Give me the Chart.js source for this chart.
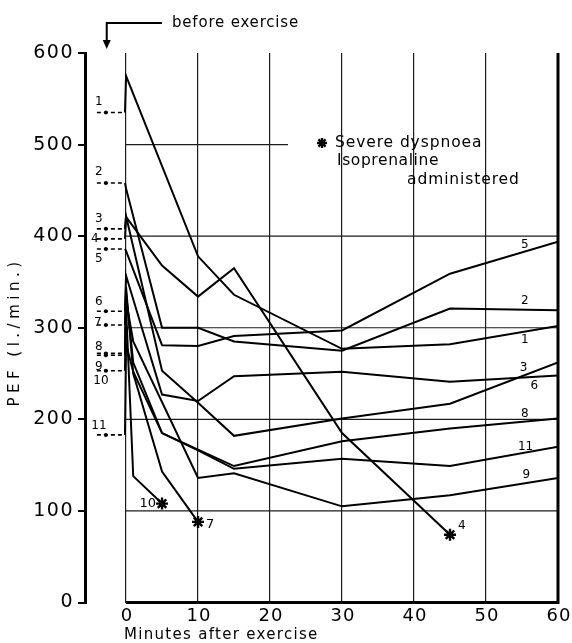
<!DOCTYPE html>
<html>
<head>
<meta charset="utf-8">
<script src="https://cdn.jsdelivr.net/npm/chart.js@4.4.1/dist/chart.umd.min.js"></script>
<style>
  html, body { margin: 0; padding: 0; background: #fff; }
  canvas { display: block; }
</style>
</head>
<body>
<canvas id="pefChart" width="572" height="643"></canvas>
<script>
// PEF (l./min.) of 11 patients, before and after exercise
const patients = ['1', '2', '3', '4', '5', '6', '7', '8', '9', '10', '11'];
const minutes = [0, 1, 5, 10, 15, 30, 45, 60];
const beforeExercise = [535, 458, 408, 397, 386, 318, 303, 272, 253, 270, 183];

const pef1  = [575, null, null, 378, 336, 277, 282, 302];
const pef2  = [452, null, 300, 300, 285, 275, 321, 319];
const pef3  = [422, null, 253, 218, 182, 201, 217, 262];
const pef4  = [421, null, 368, 334, 365, 185, 74, null];
const pef5  = [384, null, 281, 280, 291, 297, 359, 394];
const pef6  = [357, null, 227, 220, 247, 252, 241, 248];
const pef7  = [345, 250, 143, 88, null, null, null, null];
const pef8  = [338, 262, 185, 167, 149, 176, 190, 201];
const pef9  = [330, 285, null, 136, 141, 105, 117, 136];
const pef10 = [322, 138, 108, null, null, null, null, null];
const pef11 = [282, 252, 185, 166, 146, 157, 149, 170];
const series = [pef1, pef2, pef3, pef4, pef5, pef6, pef7, pef8, pef9, pef10, pef11];

// patients with severe dyspnoea, isoprenaline administered
const isoprenaline = ['4', '7', '10'];

const yTicks = [0, 100, 200, 300, 400, 500, 600];
const xTicks = [0, 10, 20, 30, 40, 50, 60];
const gridRows = [100, 200, 300, 400, 500];
const gridRowEnd = [60, 60, 60, 60, 22.5];

// label placement (minutes / value, and px offsets)
const endLabelMinute = [55.4, 55.4, 55.2, null, 55.4, 56.7, null, 55.4, 55.6, null, 55.5];
const endLabelValue  = [287, 329, 256, null, 391, 236, null, 206, 139, null, 170];
const startLabelDx = [0, 0, 0, -4, 0, 0, -1, 0, 0, 2, 0];
const startLabelDy = [-11, -11, -10, 0, 10, -9, -2, -7, -4, 26, -9];

const FONT = '"DejaVu Sans", "Liberation Sans", sans-serif';
const DASH_FROM = -4.05, DOT_AT = -2.8, DASH_TO = -0.15;

const datasets = series.map((vals, i) => {
  const pts = [
    { x: DASH_FROM, y: beforeExercise[i] },
    { x: DOT_AT, y: beforeExercise[i] },
    { x: DASH_TO, y: beforeExercise[i] },
  ];
  minutes.forEach((m, k) => { if (vals[k] !== null) pts.push({ x: m, y: vals[k] }); });
  const starred = isoprenaline.includes(patients[i]);
  const last = pts.length - 1;
  return {
    label: patients[i],
    data: pts,
    borderColor: '#000',
    backgroundColor: '#000',
    borderWidth: 2,
    tension: 0,
    segment: {
      borderDash: c => (c.p1DataIndex <= 2 ? [4, 3] : undefined),
      borderWidth: c => (c.p1DataIndex <= 2 ? 1.6 : 2),
    },
    pointRadius: c => (c.dataIndex === 1 ? 2 : (starred && c.dataIndex === last ? 6 : 0)),
    pointStyle: c => (c.dataIndex === 1 ? 'circle' : 'star'),
    pointBorderWidth: c => (c.dataIndex === 1 ? 0 : 2.4),
    pointBorderColor: '#000',
    pointBackgroundColor: '#000',
  };
});

function txt(ctx, s, px, py, size, align, spacing) {
  ctx.font = size + 'px ' + FONT;
  ctx.letterSpacing = (spacing || 0) + 'px';
  ctx.textAlign = align || 'left';
  ctx.textBaseline = 'middle';
  ctx.fillStyle = '#000';
  ctx.fillText(s, px, py);
}

function drawStar(ctx, cx, cy, r) {
  ctx.save();
  ctx.strokeStyle = '#000';
  ctx.lineWidth = 2.4;
  for (let k = 0; k < 4; k++) {
    const a = k * Math.PI / 4;
    ctx.beginPath();
    ctx.moveTo(cx - r * Math.cos(a), cy - r * Math.sin(a));
    ctx.lineTo(cx + r * Math.cos(a), cy + r * Math.sin(a));
    ctx.stroke();
  }
  ctx.restore();
}

const paperPlugin = {
  id: 'paper',
  beforeDatasetsDraw(chart) {
    const { ctx, chartArea, scales: { x, y } } = chart;
    ctx.save();
    ctx.strokeStyle = '#1c1c1c';
    ctx.lineWidth = 1.2;
    gridRows.forEach((v, i) => {
      ctx.beginPath();
      ctx.moveTo(x.getPixelForValue(0), y.getPixelForValue(v));
      ctx.lineTo(x.getPixelForValue(gridRowEnd[i]), y.getPixelForValue(v));
      ctx.stroke();
    });
    ctx.strokeStyle = '#000';
    ctx.lineWidth = 3;
    ctx.beginPath();
    ctx.moveTo(x.getPixelForValue(0), y.getPixelForValue(0));
    ctx.lineTo(x.getPixelForValue(60), y.getPixelForValue(0));
    ctx.lineTo(x.getPixelForValue(60), chartArea.top);
    ctx.stroke();
    ctx.restore();
  },
  afterDraw(chart) {
    const { ctx, scales: { x, y } } = chart;
    ctx.save();
    // axis numbers
    yTicks.forEach(v => txt(ctx, String(v), 74, y.getPixelForValue(v), 19, 'right', 1.5));
    xTicks.forEach(v => txt(ctx, String(v), x.getPixelForValue(v) + 1, 616, 18, 'center', 1));
    txt(ctx, 'Minutes after exercise', x.getPixelForValue(0) - 2, 635, 15, 'left', 1.3);

    // y title
    ctx.save();
    ctx.translate(15, 332);
    ctx.rotate(-Math.PI / 2);
    txt(ctx, 'PEF (l./min.)', 0, 0, 15, 'center', 4.5);
    ctx.restore();

    // "before exercise" arrow
    const ax = x.getPixelForValue(-2.68);
    ctx.strokeStyle = '#000';
    ctx.lineWidth = 2;
    ctx.beginPath();
    ctx.moveTo(162, 23);
    ctx.lineTo(ax, 23);
    ctx.lineTo(ax, 42);
    ctx.stroke();
    ctx.beginPath();
    ctx.moveTo(ax - 4, 40);
    ctx.lineTo(ax + 4, 40);
    ctx.lineTo(ax, 49);
    ctx.closePath();
    ctx.fill();
    txt(ctx, 'before exercise', 172, 23, 15, 'left', 0.8);

    // key
    drawStar(ctx, 322, 143, 5);
    txt(ctx, 'Severe dyspnoea', 335, 143, 15.5, 'left', 0.9);
    txt(ctx, 'Isoprenaline', 337, 161, 15.5, 'left', 0.6);
    txt(ctx, 'administered', 407, 180, 15.5, 'left', 0.9);

    // patient numbers
    patients.forEach((p, i) => {
      const by = y.getPixelForValue(beforeExercise[i]);
      const bx = x.getPixelForValue(DASH_FROM) + 2 + startLabelDx[i];
      txt(ctx, p, bx, by + startLabelDy[i], 12, 'center', 0);
      if (endLabelMinute[i] !== null) {
        txt(ctx, p, x.getPixelForValue(endLabelMinute[i]), y.getPixelForValue(endLabelValue[i]), 12, 'center', 0);
      }
    });
    // labels next to the starred end points
    const s4 = chart.getDatasetMeta(3).data.at(-1);
    const s7 = chart.getDatasetMeta(6).data.at(-1);
    const s10 = chart.getDatasetMeta(9).data.at(-1);
    txt(ctx, '4', s4.x + 8, s4.y - 9, 12, 'left', 0);
    txt(ctx, '7', s7.x + 8, s7.y + 3, 13, 'left', 0);
    txt(ctx, '10', s10.x - 6, s10.y, 13, 'right', 0);
    ctx.restore();
  }
};

const ctx = document.getElementById('pefChart').getContext('2d');
const pefChart = new Chart(ctx, {
  type: 'line',
  data: { datasets: datasets },
  options: {
    responsive: false,
    animation: false,
    devicePixelRatio: 1,
    layout: { padding: { top: 53, right: 14, left: 0, bottom: 0 } },
    plugins: {
      legend: { display: false },
      tooltip: { enabled: false },
    },
    scales: {
      x: {
        type: 'linear',
        min: -5.7,
        max: 60,
        afterBuildTicks: s => { s.ticks = xTicks.map(v => ({ value: v })); },
        afterFit: s => { s.height = 40.5; },
        ticks: { display: false },
        grid: { color: '#1c1c1c', lineWidth: 1.2, drawTicks: false },
        border: { display: false },
      },
      y: {
        min: 0,
        max: 600,
        afterBuildTicks: s => { s.ticks = yTicks.map(v => ({ value: v })); },
        afterFit: s => { s.width = 85; },
        ticks: { display: false },
        grid: { drawOnChartArea: false, drawTicks: true, tickLength: 7, color: '#000', lineWidth: 2 },
        border: { display: true, color: '#000', width: 3 },
      },
    },
  },
  plugins: [paperPlugin],
});
</script>
</body>
</html>
